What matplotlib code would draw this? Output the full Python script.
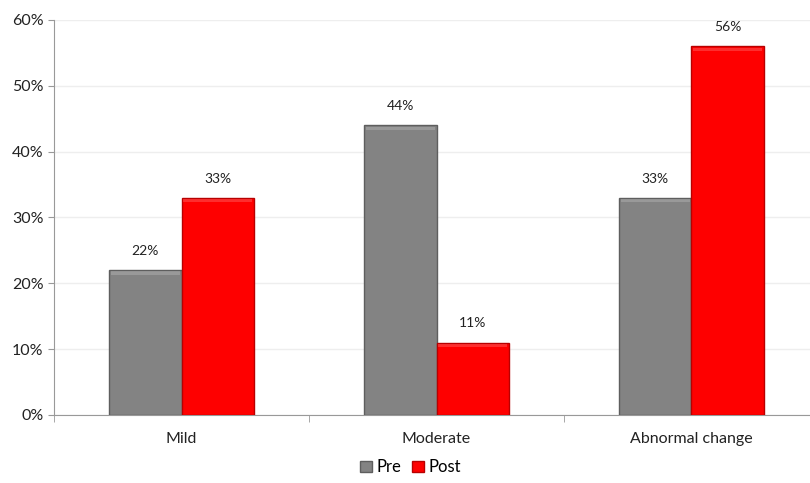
import numpy as np
import matplotlib.pyplot as plt
from matplotlib.ticker import FuncFormatter, FixedLocator

categories = ['Mild', 'Moderate', 'Abnormal change']
pre = [22, 44, 33]
post = [33, 11, 56]
series = ['Pre', 'Post']
colors = ['#838383', '#fe0000']
edges = ['#5e5e5e', '#b80000']

plt.rcParams['font.family'] = ['Lato', 'DejaVu Sans']

fig = plt.figure(figsize=(8.1, 4.83), dpi=100)
ax = fig.add_axes([0.0667, 0.1408, 0.9444, 0.8178])

x = np.arange(len(categories))
w = 0.285
for vals, off, c, ec, name in [(pre, -w / 2, colors[0], edges[0], series[0]),
                               (post, w / 2, colors[1], edges[1], series[1])]:
    ax.bar(x + off, vals, w, color=c, edgecolor=ec, linewidth=1.0, label=name, zorder=3)
    # soft top bevel
    ax.bar(x + off, [0.5] * len(vals), w * 0.95, bottom=np.array(vals) - 0.7,
           color='white', alpha=0.18, linewidth=0, zorder=4)
    for xi, v in zip(x + off, vals):
        ax.text(xi, v + 2, f'{v}%', ha='center', va='bottom', fontsize=10, color='#222222')

ax.set_xlim(-0.5, len(categories) - 0.5)
ax.set_ylim(0, 60)
ax.set_yticks(range(0, 61, 10))
ax.yaxis.set_major_formatter(FuncFormatter(lambda v, p: f'{v:.0f}%'))
ax.set_xticks(x)
ax.set_xticklabels(categories)
ax.xaxis.set_minor_locator(FixedLocator(np.arange(-0.5, len(categories), 1.0)))
ax.tick_params(axis='x', which='major', length=0, pad=12, labelsize=11.5, colors='#222222')
ax.tick_params(axis='x', which='minor', length=5, color='#999999')
ax.tick_params(axis='y', length=4, color='#999999', labelsize=11.5, labelcolor='#222222')
ax.grid(axis='y', color='#eeeeee', linewidth=1, zorder=0)
for s in ['top', 'right']:
    ax.spines[s].set_visible(False)
for s in ['left', 'bottom']:
    ax.spines[s].set_color('#999999')

fig.legend(loc='lower center', bbox_to_anchor=(0.507, -0.015), ncol=2, frameon=False,
           fontsize=12, handlelength=0.7, handleheight=0.7, handletextpad=0.3, columnspacing=0.6)

fig.savefig('out.png', dpi=100)
